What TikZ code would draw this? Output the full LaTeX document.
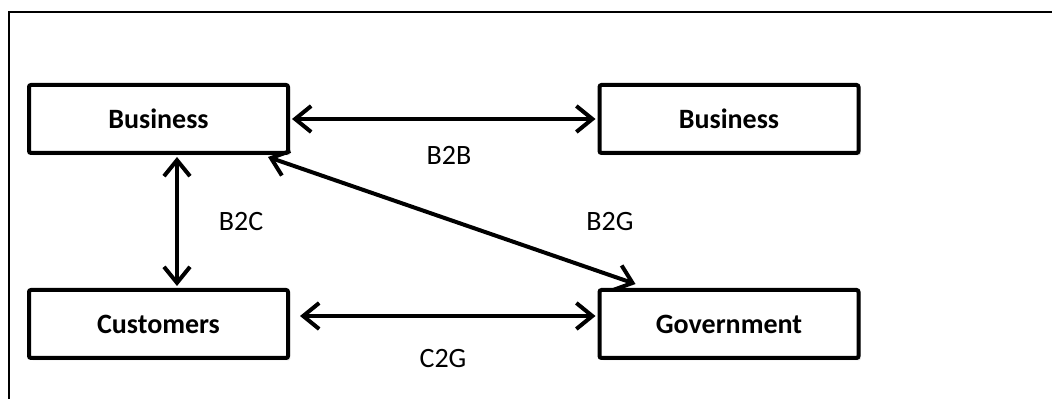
\documentclass[tikz,border=0pt]{standalone}
\usepackage{fontspec}
\setmainfont{Carlito}
\usepackage{xcolor}
\usetikzlibrary{arrows.meta}
\usetikzlibrary{shadows}
\tikzset{
  party/.style={
    draw, line width=2pt, rounded corners=1pt, fill=white,
    minimum width=129.5pt, minimum height=34pt,
    font=\fontsize{14}{17}\selectfont\bfseries,
    drop shadow={opacity=.18, shadow xshift=1.2pt, shadow yshift=-1.2pt}
  },
  link/.style={
    line width=2pt,
    {Straight Barb[length=8pt,width=13pt,line width=2pt]}-{Straight Barb[length=8pt,width=13pt,line width=2pt]}
  },
  tag/.style={
    font=\fontsize{14}{17}\selectfont
  }
}

\begin{document}
\begin{tikzpicture}[x=0.5pt, y=-0.5pt]
    %\draw[gray, very thin] (0,0) grid (1052,399);
    \useasboundingbox (0,0) rectangle (1052,399);

    % frame, open to the right and below
    \draw [line width=1pt] (9,399) -- (9,12) -- (1052,12);

    \node [party] (bizl) at (158.5,119) {Business};
    \node [party] (bizr) at (729,119) {Business};
    \node [party] (cust) at (158.5,324) {Customers};
    \node [party] (gov)  at (729,324) {Government};

    \draw [link] ([xshift=1pt]bizl.east) -- ([xshift=-1pt]bizr.west);
    \draw [link] ([xshift=9.25pt,yshift=-1pt]bizl.south) -- ([xshift=9.25pt,yshift=1pt]cust.north);
    \draw [link] ([xshift=-11pt,yshift=-1pt]bizl.south east) -- ([xshift=19pt,yshift=2pt]gov.north west);
    \draw [link] ([xshift=5pt,yshift=4pt]cust.east) -- ([xshift=-1pt,yshift=4pt]gov.west);

    \node [tag] (b2b) at (449,155) {B2B};
    \node [tag] (b2c) at (241,222) {B2C};
    \node [tag] (b2g) at (610,222) {B2G};
    \node [tag] (c2g) at (443,359) {C2G};
\end{tikzpicture}
\end{document}
